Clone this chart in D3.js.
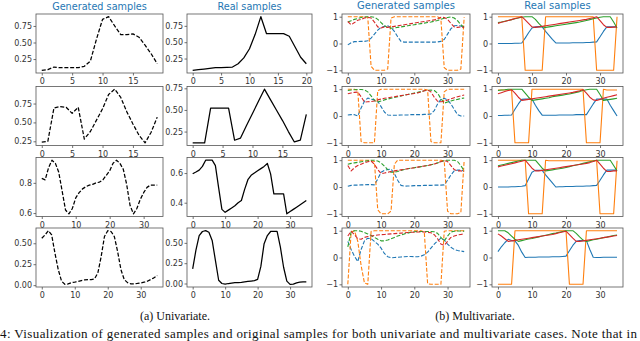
<!DOCTYPE html>
<html>
<head>
<meta charset="utf-8">
<script src="https://cdnjs.cloudflare.com/ajax/libs/d3/7.8.5/d3.min.js"></script>
<style>
	body{ margin:0; background:#fff; }
	svg text{ font-family:"DejaVu Sans", sans-serif; }
	.tick text{ fill:#333; font-size:8px; }
	.tick line{ stroke:#333; stroke-width:0.7; }
	.caption{ font-family:"Liberation Serif", "Times New Roman", serif !important; fill:#111; }
</style>
</head>
<body>
<svg id="fig" width="640" height="341"></svg>
<script>

	// ---- univariate samples (a) ----
	var uniGen1 = [0.08,0.09,0.13,0.12,0.12,0.12,0.12,0.14,0.22,0.55,0.85,0.89,0.75,0.62,0.62,0.63,0.58,0.46,0.33,0.18];
	var uniReal1 = [0.07,0.08,0.09,0.1,0.11,0.11,0.115,0.12,0.17,0.26,0.4,0.62,0.89,0.63,0.63,0.63,0.63,0.59,0.43,0.27,0.17];
	var uniGen2 = [0.24,0.25,0.69,0.71,0.7,0.62,0.7,0.28,0.38,0.53,0.68,0.87,0.94,0.83,0.64,0.48,0.33,0.23,0.37,0.57];
	var uniReal2 = [0.12,0.12,0.12,0.52,0.52,0.52,0.52,0.15,0.175,0.32,0.46,0.6,0.74,0.62,0.5,0.38,0.25,0.13,0.15,0.45];
	var uniGen3 = [0.83,0.82,0.9,0.95,0.93,0.87,0.745,0.62,0.595,0.63,0.7,0.735,0.76,0.775,0.785,0.79,0.8,0.805,0.82,0.85,0.88,0.93,0.95,0.93,0.89,0.79,0.65,0.595,0.63,0.69,0.735,0.77,0.785,0.785,0.785];
	var uniReal3 = [0.595,0.607,0.62,0.645,0.687,0.687,0.687,0.65,0.5,0.355,0.335,0.35,0.365,0.38,0.4,0.415,0.49,0.555,0.585,0.6,0.615,0.63,0.645,0.665,0.595,0.46,0.46,0.46,0.46,0.325,0.34,0.355,0.37,0.385,0.4,0.415];
	var uniGen4 = [0.56,0.6,0.65,0.6,0.38,0.185,0.047,0.01,0.015,0.03,0.035,0.045,0.055,0.063,0.067,0.067,0.075,0.145,0.34,0.58,0.65,0.64,0.58,0.4,0.185,0.067,0.03,0.015,0.015,0.02,0.027,0.035,0.047,0.067,0.087,0.115];
	var uniReal4 = [0.18,0.41,0.59,0.64,0.65,0.63,0.53,0.285,0.04,0.0,-0.008,0.0,0.005,0.01,0.012,0.015,0.02,0.025,0.03,0.035,0.05,0.21,0.49,0.59,0.64,0.64,0.64,0.45,0.2,0.03,-0.01,-0.008,0.008,0.016,0.02,0.02];

	var uniXTicks = [[0,5,10,15], [0,5,10,15,20], [0,5,10,15], [0,5,10,15], [0,10,20,30], [0,10,20,30], [0,10,20,30], [0,10,20,30]];
	var uniYTicks = [[0.25,0.5,0.75], [0.25,0.5,0.75], [0.25,0.5,0.75], [0.25,0.5,0.75], [0.6,0.8], [0.4,0.6], [0,0.25,0.5], [0,0.25,0.5]];
	var uniYFormat = ['.2f', '.2f', '.2f', '.2f', '.1f', '.1f', '.2f', '.2f'];

	// ---- multivariate samples (b) ----
	var mvGen1Blue = [-0.05,0.03,0.07,0.07,0.08,0.08,0.1,0.2,0.35,0.5,0.6,0.64,0.66,0.6,0.45,0.25,0.08,0.05,0.05,0.05,0.05,0.05,0.05,0.05,0.05,0.05,0.05,0.06,0.08,0.15,0.35,0.55,0.66,0.67,0.65,0.6];
	var mvGen1Orange = [1,1,1,1,1,1,0.98,-0.85,-1,-1,-1,-1,-0.95,0.95,1,1,1,1,1,1,1,1,1,1,1,1,1,1,0.9,-0.9,-1,-1,-1,-1,-0.95,0.98];
	var mvGen1Green = [0.8,0.85,0.9,0.93,0.97,0.99,1.0,1.0,0.98,0.9,0.78,0.66,0.6,0.57,0.58,0.6,0.62,0.64,0.66,0.68,0.7,0.72,0.74,0.76,0.78,0.8,0.83,0.86,0.9,0.94,0.97,0.99,0.95,0.85,0.7,0.6];
	var mvGen1Red = [0.82,0.7,0.78,0.87,0.9,0.95,0.98,0.95,0.8,0.62,0.58,0.62,0.6,0.62,0.64,0.66,0.68,0.7,0.72,0.74,0.76,0.78,0.8,0.82,0.84,0.86,0.88,0.92,0.98,0.97,0.9,0.75,0.62,0.6,0.62,0.6];

	var mvReal1Blue = [0,0,0,0,0,0.01,0.01,0.02,0.2,0.4,0.58,0.62,0.63,0.62,0.45,0.3,0.15,0.02,0.02,0.02,0.02,0.02,0.03,0.03,0.03,0.03,0.04,0.04,0.05,0.06,0.25,0.45,0.62,0.62,0.62,0.62];
	var mvReal1Orange = [1,1,1,1,1,1,1,1,-1,-1,-1,-1,-1,-1,1,1,1,1,1,1,1,1,1,1,1,1,1,1,1,-1,-1,-1,-1,-1,-1,1];
	var mvReal1Green = [0.78,0.8,0.83,0.86,0.89,0.92,0.95,0.98,1.0,1.0,1.0,0.9,0.75,0.62,0.6,0.62,0.64,0.66,0.68,0.7,0.72,0.74,0.76,0.78,0.8,0.83,0.86,0.89,0.92,0.95,0.98,1.0,1.0,1.0,0.8,0.58];
	var mvReal1Red = [0.75,0.79,0.82,0.86,0.89,0.93,0.96,1.0,0.88,0.75,0.62,0.6,0.62,0.64,0.66,0.68,0.7,0.72,0.74,0.76,0.78,0.8,0.82,0.84,0.86,0.88,0.9,0.93,0.96,1.0,0.85,0.7,0.6,0.6,0.61,0.62];

	var mvGen2Blue = [0.04,0.05,0.05,0.0,0.3,0.55,0.67,0.63,0.6,0.55,0.35,0.15,0.04,0.03,0.03,0.03,0.04,0.04,0.04,0.05,0.05,0.05,0.05,0.06,0.06,0.08,0.2,0.45,0.62,0.66,0.6,0.45,0.25,0.05,0.0,0.0];
	var mvGen2Orange = [1,1,1,0.95,-0.95,-1,-1,-1,-1,0.95,1,1,1,1,1,1,1,1,1,1,1,1,1,1,0.97,-0.95,-1,-1,-1,0.9,1,1,1,1,1,1];
	var mvGen2Green = [0.95,0.97,0.98,0.99,0.99,0.97,0.9,0.75,0.58,0.52,0.56,0.6,0.63,0.66,0.69,0.72,0.75,0.78,0.8,0.83,0.86,0.88,0.91,0.94,0.96,0.97,0.95,0.85,0.65,0.48,0.52,0.56,0.6,0.62,0.65,0.67];
	var mvGen2Red = [0.83,0.86,0.88,0.89,0.72,0.52,0.53,0.54,0.56,0.6,0.63,0.66,0.68,0.7,0.72,0.74,0.76,0.78,0.8,0.82,0.84,0.86,0.9,0.94,0.97,0.9,0.7,0.55,0.53,0.54,0.6,0.64,0.68,0.72,0.75,0.78];

	var mvReal2Blue = [0.02,0.02,0.03,0.03,0.04,0.25,0.45,0.62,0.63,0.63,0.63,0.4,0.2,0.03,0.03,0.03,0.03,0.03,0.04,0.04,0.04,0.04,0.04,0.05,0.05,0.05,0.05,0.25,0.45,0.63,0.63,0.63,0.63,0.4,0.2,0.0];
	var mvReal2Orange = [0.97,0.97,0.97,0.97,0.97,-1,-1,-1,-1,-1,1,1,1,1,1,1,1,1,1,1,1,1,1,1,1,1,-1,-1,-1,-1,-1,1,0.97,0.97,0.97,0.97];
	var mvReal2Green = [0.95,0.97,0.98,1.0,1.0,1.0,1.0,1.0,0.85,0.7,0.58,0.6,0.62,0.64,0.66,0.68,0.72,0.74,0.76,0.78,0.8,0.82,0.85,0.88,0.91,0.95,0.98,1.0,1.0,1.0,0.8,0.58,0.6,0.62,0.64,0.66];
	var mvReal2Red = [0.83,0.87,0.91,0.95,0.98,0.85,0.7,0.58,0.6,0.62,0.64,0.66,0.68,0.7,0.72,0.74,0.76,0.78,0.8,0.82,0.84,0.86,0.88,0.91,0.94,0.98,0.85,0.7,0.6,0.58,0.62,0.66,0.7,0.73,0.76,0.79];

	var mvGen3Blue = [0.03,0.06,0.07,0.07,0.08,0.08,0.09,0.09,0.08,0.3,0.55,0.62,0.65,0.67,0.5,0.25,0.06,0.03,0.04,0.04,0.05,0.05,0.05,0.06,0.06,0.06,0.07,0.07,0.07,0.08,0.25,0.45,0.6,0.63,0.63,0.6];
	var mvGen3Orange = [1,1,1,1,1,1,1,0.98,0.95,-0.85,-1,-1,-1,-0.9,0.85,1,1,1,1,1,1,1,1,1,1,1,1,1,1,0.97,-0.9,-1,-1,-1,-0.95,1];
	var mvGen3Green = [0.85,0.88,0.9,0.92,0.94,0.96,0.98,1.0,1.0,0.97,0.9,0.78,0.65,0.55,0.55,0.58,0.62,0.65,0.68,0.7,0.72,0.74,0.76,0.78,0.8,0.83,0.86,0.9,0.94,0.98,1.0,1.0,1.0,0.95,0.8,0.6];
	var mvGen3Red = [0.8,0.6,0.72,0.8,0.85,0.9,0.94,0.97,0.85,0.65,0.5,0.52,0.55,0.58,0.6,0.62,0.64,0.66,0.68,0.7,0.72,0.74,0.76,0.78,0.8,0.83,0.86,0.9,0.95,0.98,0.95,0.8,0.65,0.6,0.6,0.58];

	var mvReal3Blue = [0,0,0,0,0.01,0.01,0.02,0.03,0.05,0.3,0.55,0.62,0.62,0.62,0.45,0.3,0.15,0.0,0.01,0.01,0.02,0.02,0.02,0.03,0.03,0.03,0.04,0.04,0.05,0.06,0.25,0.45,0.63,0.63,0.63,0.63];
	var mvReal3Orange = [1,1,1,1,1,1,1,1,1,-1,-1,-1,-1,-1,1,0.98,0.98,0.98,0.98,0.98,0.98,0.98,0.98,0.98,0.98,0.98,0.98,0.98,0.98,0.98,-1,-1,-1,-1,-1,0.98];
	var mvReal3Green = [0.79,0.82,0.85,0.88,0.91,0.94,0.97,1.0,1.0,1.0,1.0,1.0,0.85,0.7,0.6,0.62,0.64,0.66,0.68,0.7,0.73,0.76,0.79,0.82,0.85,0.88,0.91,0.94,0.97,1.0,1.0,1.0,1.0,1.0,0.8,0.6];
	var mvReal3Red = [0.75,0.78,0.81,0.84,0.87,0.9,0.93,0.96,1.0,0.85,0.7,0.6,0.6,0.62,0.64,0.66,0.68,0.7,0.72,0.74,0.76,0.78,0.8,0.82,0.84,0.86,0.88,0.91,0.95,1.0,0.85,0.7,0.58,0.58,0.6,0.6];

	var mvGen4Blue = [0.6,0.3,0.05,-0.15,0.3,0.62,0.72,0.7,0.6,0.5,0.35,0.15,0.03,-0.01,0.0,0.01,0.02,0.03,0.04,0.04,0.03,0.03,0.05,0.1,0.2,0.35,0.5,0.62,0.72,0.65,0.5,0.38,0.3,0.26,0.24,0.22];
	var mvGen4Orange = [-1,0.95,1,0.6,-0.3,-0.95,-1,0.97,1,1,1,1,1,1,1,1,1,1,1,1,1,1,1,0.95,-0.98,-1,-1,-1,-1,0.98,1,1,1,1,1,1];
	var mvGen4Green = [0.4,0.95,1.0,1.0,0.98,0.93,0.88,0.82,0.75,0.68,0.62,0.62,0.65,0.7,0.75,0.8,0.84,0.88,0.91,0.94,0.96,0.97,0.97,0.97,0.97,0.97,0.96,0.9,0.75,0.62,0.8,0.95,0.98,0.99,0.99,0.98];
	var mvGen4Red = [0.8,0.98,0.85,0.7,0.68,0.75,0.78,0.8,0.82,0.84,0.85,0.86,0.87,0.88,0.89,0.9,0.91,0.92,0.93,0.94,0.94,0.95,0.95,0.95,0.94,0.92,0.85,0.7,0.5,0.45,0.6,0.75,0.8,0.84,0.86,0.88];

	var mvReal4Blue = [0.22,0.4,0.55,0.68,0.63,0.62,0.45,0.2,0.0,0.01,0.01,0.01,0.02,0.02,0.02,0.02,0.03,0.03,0.03,0.04,0.05,0.25,0.45,0.6,0.63,0.63,0.63,0.3,0.01,0.0,0.0,0.01,0.01,0.01,0.01,0.01];
	var mvReal4Orange = [-1,-1,-1,-1,-1,1,1,1,1,1,1,1,1,1,1,1,1,1,1,1,1,-1,-1,-1,-1,-1,1,1,1,1,1,1,1,1,1,1];
	var mvReal4Green = [1.0,1.0,1.0,0.92,0.8,0.68,0.6,0.63,0.66,0.69,0.71,0.74,0.77,0.8,0.83,0.86,0.89,0.91,0.94,0.97,1.0,1.0,1.0,0.9,0.77,0.65,0.6,0.63,0.66,0.68,0.71,0.74,0.76,0.79,0.82,0.84];
	var mvReal4Red = [0.88,0.8,0.7,0.6,0.62,0.64,0.66,0.68,0.7,0.72,0.74,0.76,0.78,0.8,0.82,0.84,0.86,0.89,0.92,0.95,0.98,0.85,0.72,0.6,0.6,0.62,0.64,0.66,0.68,0.7,0.72,0.74,0.76,0.78,0.8,0.82];

	var mvXTicks = [0,10,20,30];
	var mvYTicks = [-1,0,1];

	var titles = ['Generated samples', 'Real samples'];
	var colors = {blue: '#1f77b4', orange: '#ff7f0e', green: '#2ca02c', red: '#d62728'};

	// ---- layout ----
	var colLeft = [36, 187, 342, 492];
	var colWidth = [127, 125, 128, 131];
	var rowTop = [14, 86.5, 157.5, 228];
	var rowHeight = 59;

	var svg = d3.select('#fig');

	function pad(ext){
		var r = ext[1] - ext[0];
		return [ext[0] - r * 0.05, ext[1] + r * 0.05];
	}

	function rendering(cfg){
		var n = cfg.series[0].values.length - 1;
		var x = d3.scaleLinear().domain(pad([0, n])).range([cfg.left, cfg.left + cfg.width]);
		var ext = d3.extent(d3.merge(cfg.series.map(function(s){ return s.values; })));
		var y = d3.scaleLinear().domain(pad(ext)).range([cfg.top + cfg.height, cfg.top]);

		var g = svg.append('g');

		var line = d3.line()
			.x(function(d, i){ return x(i); })
			.y(function(d){ return y(d); });

		g.selectAll('path.series')
			.data(cfg.series)
			.enter()
			.append('path')
			.attr('class', 'series')
			.attr('fill', 'none')
			.attr('stroke', function(s){ return s.color; })
			.attr('stroke-width', cfg.lineWidth)
			.attr('stroke-linejoin', 'round')
			.attr('stroke-dasharray', cfg.dashed ? '4,1.8' : null)
			.attr('d', function(s){ return line(s.values); });

		g.append('g')
			.attr('transform', 'translate(0,' + (cfg.top + cfg.height) + ')')
			.call(d3.axisBottom(x).tickValues(cfg.xTicks).tickSize(2.5).tickPadding(3).tickFormat(d3.format('d')))
			.call(function(a){ a.select('.domain').remove(); });

		g.append('g')
			.attr('transform', 'translate(' + cfg.left + ',0)')
			.call(d3.axisLeft(y).tickValues(cfg.yTicks).tickSize(2.5).tickPadding(1.5).tickFormat(d3.format(cfg.yFormat)))
			.call(function(a){ a.select('.domain').remove(); });

		g.append('rect')
			.attr('x', cfg.left)
			.attr('y', cfg.top)
			.attr('width', cfg.width)
			.attr('height', cfg.height)
			.attr('fill', 'none')
			.attr('stroke', '#555')
			.attr('stroke-width', 0.8);
	}

	// univariate panels
	var uniSeries = [uniGen1, uniReal1, uniGen2, uniReal2, uniGen3, uniReal3, uniGen4, uniReal4];
	uniSeries.forEach(function(vals, k){
		var col = k % 2, row = Math.floor(k / 2);
		rendering({
			left: colLeft[col], width: colWidth[col], top: rowTop[row], height: rowHeight,
			series: [{values: vals, color: '#000'}],
			dashed: col === 0,
			lineWidth: 1.25,
			xTicks: uniXTicks[k], yTicks: uniYTicks[k], yFormat: uniYFormat[k]
		});
	});

	// multivariate panels
	var mvSets = [
		[mvGen1Blue, mvGen1Orange, mvGen1Green, mvGen1Red], [mvReal1Blue, mvReal1Orange, mvReal1Green, mvReal1Red],
		[mvGen2Blue, mvGen2Orange, mvGen2Green, mvGen2Red], [mvReal2Blue, mvReal2Orange, mvReal2Green, mvReal2Red],
		[mvGen3Blue, mvGen3Orange, mvGen3Green, mvGen3Red], [mvReal3Blue, mvReal3Orange, mvReal3Green, mvReal3Red],
		[mvGen4Blue, mvGen4Orange, mvGen4Green, mvGen4Red], [mvReal4Blue, mvReal4Orange, mvReal4Green, mvReal4Red]
	];
	var mvColors = [colors.blue, colors.orange, colors.green, colors.red];
	mvSets.forEach(function(set, k){
		var col = k % 2, row = Math.floor(k / 2);
		rendering({
			left: colLeft[col + 2], width: colWidth[col + 2], top: rowTop[row], height: rowHeight,
			series: set.map(function(v, i){ return {values: v, color: mvColors[i]}; }),
			dashed: col === 0,
			lineWidth: 1.1,
			xTicks: mvXTicks, yTicks: mvYTicks, yFormat: 'd'
		});
	});

	// column titles
	colLeft.forEach(function(l, i){
		svg.append('text')
			.attr('x', l + colWidth[i] / 2)
			.attr('y', i < 2 ? 9.5 : 8.5)
			.attr('text-anchor', 'middle')
			.attr('fill', '#1f77b4')
			.attr('font-size', i < 2 ? 9.7 : 10)
			.text(titles[i % 2]);
	});

	// captions
	svg.append('text').attr('class', 'caption')
		.attr('x', 175).attr('y', 320).attr('text-anchor', 'middle').attr('font-size', 12)
		.text('(a) Univariate.');
	svg.append('text').attr('class', 'caption')
		.attr('x', 475).attr('y', 320).attr('text-anchor', 'middle').attr('font-size', 12)
		.text('(b) Multivariate.');
	svg.append('text').attr('class', 'caption')
		.attr('x', 0).attr('y', 338).attr('font-size', 13)
		.attr('textLength', 637).attr('lengthAdjust', 'spacing')
		.text('4: Visualization of generated samples and original samples for both univariate and multivariate cases. Note that in');

</script>
</body>
</html>
